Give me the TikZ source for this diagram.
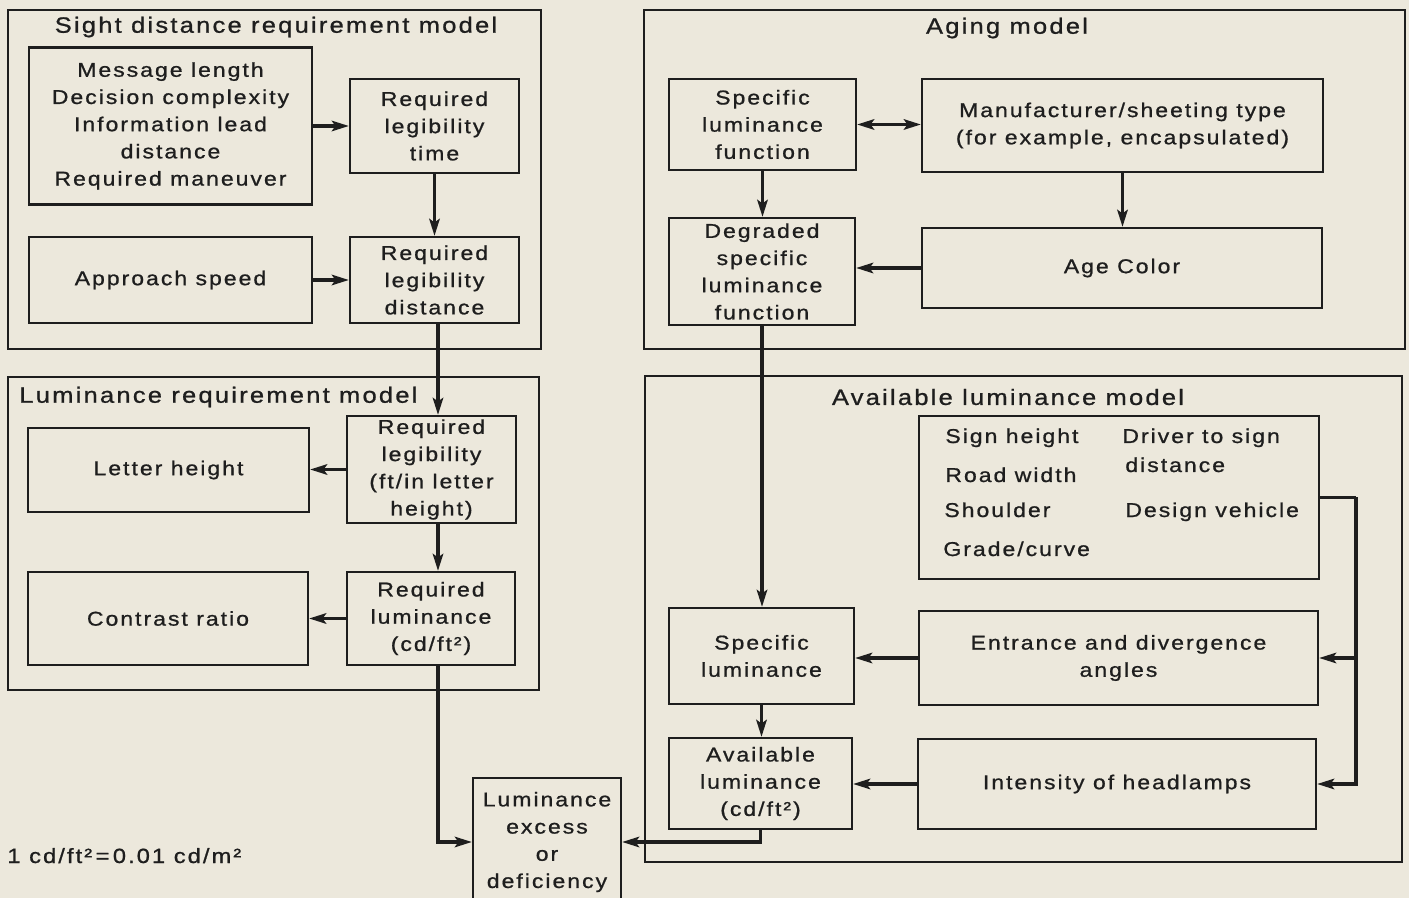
\documentclass[tikz,border=0pt]{standalone}
\usepackage{fontspec}
\setmainfont{Liberation Sans}[FakeStretch=1.15,LetterSpace=10,FakeBold=0.9]
\usetikzlibrary{arrows.meta,calc,fit}
\definecolor{bg}{HTML}{ECE8DC}
\definecolor{ink}{HTML}{1E1E1E}
\tikzset{
  frame/.style={draw=ink, line width=0.75pt, inner sep=0pt},
  box/.style={draw=ink, line width=1.1pt, inner sep=0pt, align=center, text=ink,
    font=\fontsize{10}{13.6}\selectfont},
  title/.style={text=ink, inner sep=0pt, font=\fontsize{11.1}{13}\selectfont},
  lbl/.style={text=ink, inner sep=0pt, anchor=base west, font=\fontsize{10}{13.5}\selectfont},
  arr/.style={draw=ink, line width=1.7pt, -{Stealth[length=8.5pt,width=5.2pt,inset=1.8pt]}},
  darr/.style={draw=ink, line width=1.7pt, {Stealth[length=8.5pt,width=5.2pt,inset=1.8pt]}-{Stealth[length=8.5pt,width=5.2pt,inset=1.8pt]}},
  wire/.style={draw=ink, line width=1.7pt}
}
\begin{document}
\begin{tikzpicture}[x=0.5pt,y=-0.5pt]
\useasboundingbox (0,0) rectangle (1409,898);
\fill[bg] (0,0) rectangle (1409,898);

% outer frames
\node[frame, fit={(8,10)(541,349)}] (sdm) {};
\node[frame, fit={(8,377)(539,690)}] (lrm) {};
\node[frame, fit={(644,10)(1405,349)}] (age) {};
\node[frame, fit={(645,376)(1402,862)}] (alm) {};

\node[title] (sdmT) at (276,27) {Sight distance requirement model};
\node[title, anchor=west] (lrmT) at (19,397) {Luminance requirement model};
\node[title] (ageT) at (1007,28) {Aging model};
\node[title] (almT) at (1008,397) {Available luminance model};

% sight distance model
\node[box, minimum width=141.5pt, minimum height=78.5pt] (A) at (170.5,126) {Message length\\Decision complexity\\Information lead\\distance\\Required maneuver};
\node[box, minimum width=84.5pt, minimum height=47pt] (B) at (434.5,126) {Required\\legibility\\time};
\node[box, minimum width=141.5pt, minimum height=43pt] (C) at (170.5,280) {Approach speed};
\node[box, minimum width=84.5pt, minimum height=43pt] (D) at (434.5,280) {Required\\legibility\\distance};

% luminance requirement model
\node[box, minimum width=140.5pt, minimum height=42pt] (E) at (168.5,470) {Letter height};
\node[box, minimum width=84.5pt, minimum height=53.5pt] (F) at (431.5,469.5) {Required\\legibility\\(ft/in letter\\height)};
\node[box, minimum width=140pt, minimum height=46.5pt] (G) at (168,618.5) {Contrast ratio};
\node[box, minimum width=84pt, minimum height=46.5pt] (H) at (431,618.5) {Required\\luminance\\(cd/ft²)};

% result
\node[box, minimum width=74pt, minimum height=64pt] (I) at (547,842) {Luminance\\excess\\or\\deficiency};

% aging model
\node[box, minimum width=93.5pt, minimum height=45.5pt] (J) at (762.5,124.5) {Specific\\luminance\\function};
\node[box, minimum width=200.5pt, minimum height=46.5pt] (K) at (1122.5,125.5) {Manufacturer/sheeting type\\(for example, encapsulated)};
\node[box, minimum width=93pt, minimum height=53.5pt] (L) at (762,271.5) {Degraded\\specific\\luminance\\function};
\node[box, minimum width=200pt, minimum height=40pt] (M) at (1122,268) {Age Color};

% available luminance model
\node[box, minimum width=200pt, minimum height=81.5pt] (O) at (1119,497.5) {};
\node[lbl] (o1) at (945,443) {Sign height};
\node[lbl] (o2) at (945,482) {Road width};
\node[lbl] (o3) at (944,517) {Shoulder};
\node[lbl] (o4) at (943,556) {Grade/curve};
\node[lbl] (o5) at (1122,443) {Driver to sign};
\node[lbl] (o6) at (1125,472) {distance};
\node[lbl] (o7) at (1125,517) {Design vehicle};
\node[box, minimum width=92.5pt, minimum height=48pt] (N) at (761.5,656) {Specific\\luminance};
\node[box, minimum width=199.5pt, minimum height=47pt] (P) at (1118.5,658) {Entrance and divergence\\angles};
\node[box, minimum width=91.5pt, minimum height=45.5pt] (Q) at (760.5,783.5) {Available\\luminance\\(cd/ft²)};
\node[box, minimum width=199pt, minimum height=45pt] (R) at (1117,784) {Intensity of headlamps};

\node[lbl, font=\fontsize{10.3}{13}\selectfont] (note) at (7,863) {1 cd/ft²\,=\,0.01 cd/m²};

% connectors, left
\draw[arr] (A.east |- B.west) -- (B.west);
\draw[arr] (B.south) -- (B.south |- D.north);
\draw[arr] (C.east) -- (C.east -| D.west);
\coordinate (d1) at ($(D.south)+(3.5,0)$);
\draw[arr] (d1) -- (d1 |- F.north);
\draw[arr] (F.west) -- (F.west -| E.east);
\coordinate (f1) at ($(F.south)+(6.5,0)$);
\draw[arr] (f1) -- (f1 |- H.north);
\draw[arr] (H.west) -- (H.west -| G.east);
\coordinate (h1) at ($(H.south)+(7,0)$);
\draw[arr] (h1) |- (I.west);

% connectors, right
\draw[darr] (J.east) -- (J.east -| K.west);
\draw[arr] (J.south) -- (J.south |- L.north);
\draw[arr] (K.south) -- (K.south |- M.north);
\draw[arr] (M.west) -- (M.west -| L.east);
\draw[arr] (L.south) -- (L.south |- N.north);
\draw[arr] (P.west) -- (P.west -| N.east);
\draw[arr] (R.west) -- (R.west -| Q.east);
\draw[arr] (N.south) -- (N.south |- Q.north);
\draw[arr] (Q.south) |- (I.east);
\coordinate (bus) at ($(O.east)+(36,0)$);
\draw[wire] (O.east) -- (bus);
\draw[arr] (bus) |- (R.east);
\draw[arr] (bus |- P.east) -- (P.east);
\end{tikzpicture}
\end{document}
